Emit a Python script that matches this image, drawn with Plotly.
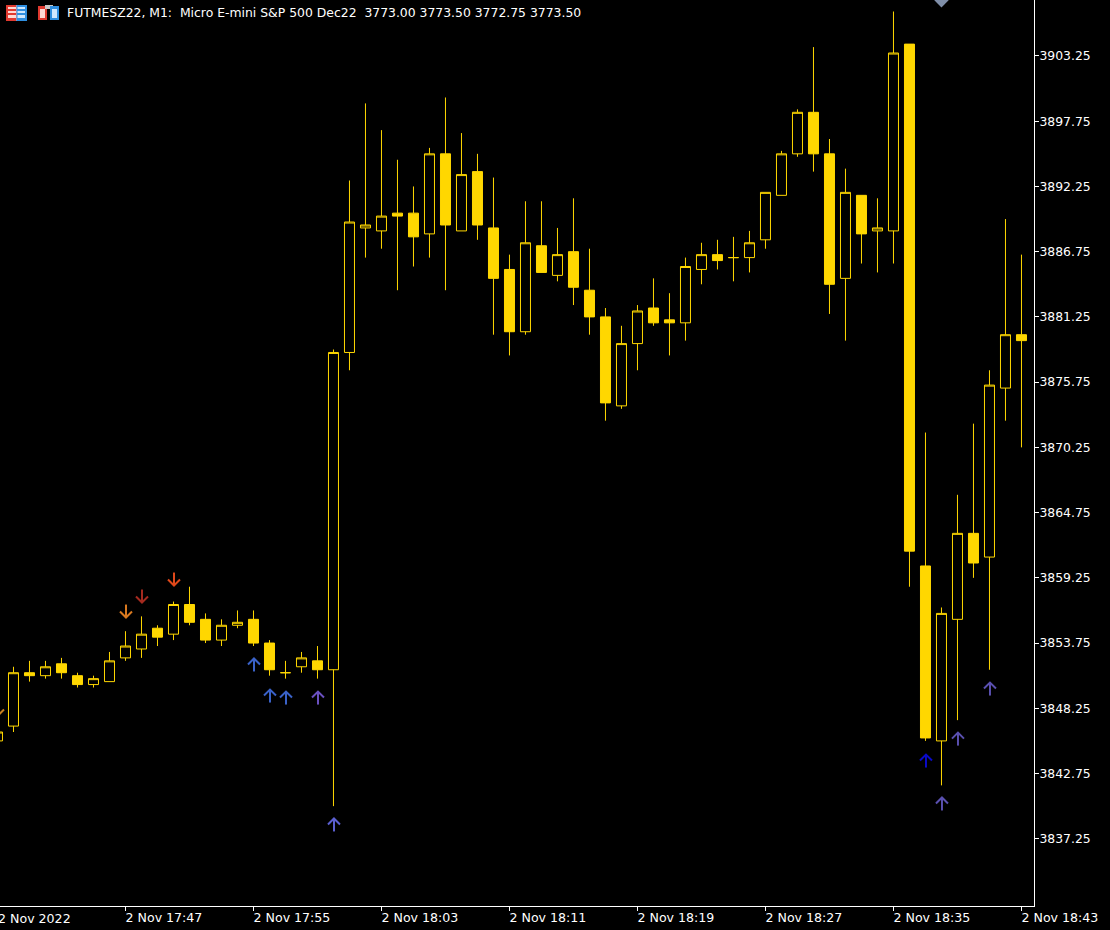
import pandas as pd
import plotly.graph_objects as go

# ---- data ----
times = pd.date_range("2022-11-02 17:39", "2022-11-02 18:43", freq="min")
opens = [3845.5,3846.75,3851.25,3851.0,3852.0,3851.0,3850.25,3850.5,3852.5,3853.25,3855.0,3854.5,3857.0,3855.75,3854.0,3855.25,3855.75,3853.75,3851.25,3851.75,3852.25,3851.5,
         3878.25,3888.75,3888.5,3890.0,3890.0,3888.25,3895.0,3888.5,3893.5,3888.75,3885.25,3880.0,3887.25,3884.75,3886.75,3883.5,3881.25,3873.75,3879.0,3882.0,3881.0,
         3880.75,3885.25,3886.5,3886.25,3886.25,3887.75,3891.5,3895.0,3898.5,3895.0,3884.5,3891.5,3888.5,3888.5,3904.25,3860.25,3845.5,3855.75,3863.0,3861.0,3875.25,3879.75]
highs = [3846.5,3851.75,3852.25,3852.25,3852.5,3851.25,3851.0,3853.0,3854.75,3856.0,3855.25,3857.25,3858.5,3856.25,3855.75,3856.5,3856.5,3854.0,3852.25,3853.0,3853.5,3878.5,
         3892.75,3899.25,3897.0,3894.5,3892.25,3895.5,3899.75,3896.75,3895.0,3893.0,3886.5,3891.0,3891.0,3888.75,3891.25,3887.0,3882.0,3880.5,3882.25,3884.5,3883.25,
         3886.25,3887.5,3887.75,3888.0,3888.5,3891.75,3895.25,3898.75,3904.0,3896.25,3893.75,3891.5,3891.25,3907.0,3904.25,3871.5,3856.75,3866.25,3872.25,3876.75,3889.5,3886.5]
lows = [3845.25,3846.25,3850.5,3850.75,3850.75,3850.0,3850.0,3850.5,3852.25,3852.5,3853.5,3854.0,3855.25,3853.75,3853.5,3855.0,3853.5,3851.0,3850.75,3851.25,3850.75,3840.0,
        3876.75,3886.25,3887.0,3883.5,3885.5,3886.25,3883.5,3888.5,3887.75,3879.75,3878.0,3879.75,3885.0,3884.25,3882.25,3879.75,3872.5,3873.5,3876.75,3880.5,3878.0,
        3879.25,3884.0,3885.25,3884.25,3885.0,3887.0,3891.5,3894.75,3893.5,3881.5,3879.25,3885.75,3885.0,3885.75,3858.5,3845.5,3841.75,3847.25,3859.25,3851.5,3872.5,3870.25]
closes = [3846.25,3851.25,3851.0,3851.75,3851.25,3850.25,3850.75,3852.25,3853.5,3854.5,3854.25,3857.0,3855.5,3854.0,3855.25,3855.5,3853.75,3851.5,3851.25,3852.5,3851.5,3878.25,
          3889.25,3889.0,3889.75,3889.75,3888.0,3895.0,3889.0,3893.25,3889.0,3884.5,3880.0,3887.5,3885.0,3886.5,3883.75,3881.25,3874.0,3879.0,3881.75,3880.75,3880.75,
          3885.5,3886.5,3886.0,3886.25,3887.5,3891.75,3895.0,3898.5,3895.0,3884.0,3891.75,3888.25,3888.75,3903.5,3861.5,3845.75,3856.25,3863.0,3860.5,3875.5,3879.75,3879.25]

y_ticks = [3903.25,3897.75,3892.25,3886.75,3881.25,3875.75,3870.25,3864.75,3859.25,3853.75,3848.25,3842.75,3837.25]
x_tick_times = ["2022-11-02 17:47","2022-11-02 17:55","2022-11-02 18:03","2022-11-02 18:11",
                "2022-11-02 18:19","2022-11-02 18:27","2022-11-02 18:35","2022-11-02 18:43"]
x_tick_text = ["2 Nov 17:47","2 Nov 17:55","2 Nov 18:03","2 Nov 18:11",
               "2 Nov 18:19","2 Nov 18:27","2 Nov 18:35","2 Nov 18:43"]

down_arrow_times = ["17:39","17:47","17:48","17:50"]
down_arrow_prices = [3847.64,3855.9,3857.17,3858.6]
down_arrow_colors = ["#c8801f","#d9791f","#a52a1f","#e0481a"]

up_arrow_times = ["17:55","17:56","17:57","17:59","18:00","18:37","18:38","18:39","18:41"]
up_arrow_prices = [3852.45,3849.83,3849.66,3849.66,3838.96,3844.35,3840.73,3846.2,3850.42]
up_arrow_colors = ["#3a62c8","#3a62c8","#3a62c8","#6a50c0","#5b5fd0","#0a0ac8","#5a50b0","#5a50b0","#5a50b0"]

diamond_time = ["2022-11-02 18:38"]
diamond_price = [3907.95]

title_text = "FUTMESZ22, M1:\u00a0\u00a0Micro E-mini S&P 500 Dec22\u00a0\u00a03773.00 3773.50 3772.75 3773.50"
first_label = "2 Nov 2022"

# ---- style ----
GOLD = "#FFD700"
FONT = "DejaVu Sans"
W, H = 1110, 930
PW, PH = 1034, 906
PRICE_PER_PX = 0.08432
MIN_PER_PX = 1 / 16

fig = go.Figure()
fig.add_trace(go.Candlestick(
    x=times, open=opens, high=highs, low=lows, close=closes,
    increasing=dict(line=dict(color=GOLD, width=1), fillcolor="#000000"),
    decreasing=dict(line=dict(color=GOLD, width=1), fillcolor=GOLD),
    whiskerwidth=0, hoverinfo="skip", showlegend=False,
))


def arrow(time_str, price, color, direction):
    """direction=+1 for an up arrow (tip on top), -1 for a down arrow."""
    t = pd.Timestamp("2022-11-02 " + time_str) + pd.Timedelta(minutes=0.5 * MIN_PER_PX)
    dt = pd.Timedelta(minutes=6 * MIN_PER_PX)
    head = price - direction * 6 * PRICE_PER_PX
    tail = price - direction * 13 * PRICE_PER_PX
    fig.add_trace(go.Scatter(
        x=[t - dt, t, t + dt, None, t, t],
        y=[head, price, head, None, price, tail],
        mode="lines", line=dict(color=color, width=2),
        hoverinfo="skip", showlegend=False,
    ))


for t_, p_, c_ in zip(down_arrow_times, down_arrow_prices, down_arrow_colors):
    arrow(t_, p_, c_, -1)
for t_, p_, c_ in zip(up_arrow_times, up_arrow_prices, up_arrow_colors):
    arrow(t_, p_, c_, 1)

fig.add_trace(go.Scatter(
    x=diamond_time, y=diamond_price, mode="markers",
    marker=dict(symbol="diamond", size=11, color="#7f8ea8"),
    hoverinfo="skip", showlegend=False,
))


def px(x0, y0, x1, y1, fill):
    return dict(type="rect", xref="paper", yref="paper", layer="above",
                x0=x0 / PW, x1=x1 / PW, y0=1 - y0 / PH, y1=1 - y1 / PH,
                fillcolor=fill, line=dict(width=0))


RED, BLUE, PALE_R, PALE_B = "#e0392f", "#2f8fe0", "#ffd9d4", "#cfe8ff"
shapes = [
    px(6, 5, 27, 21, "#ffffff"),
    px(6, 5, 16.5, 21, RED), px(16.5, 5, 27, 21, BLUE),
    px(8, 7, 16, 9, PALE_R), px(8, 11, 16, 13, PALE_R), px(8, 15, 16, 18, PALE_R),
    px(17.5, 7, 25, 9, PALE_B), px(17.5, 11, 25, 13, PALE_B), px(17.5, 15, 25, 18, PALE_B),
    px(38, 6, 47, 20, RED), px(40, 9, 45, 18, PALE_R),
    px(45, 5, 53, 9, "#c8c8c8"),
    px(50, 6, 59, 20, BLUE), px(52, 9, 57, 18, PALE_B),
]

fig.update_layout(
    width=W, height=H,
    margin=dict(l=0, r=W - PW, t=0, b=H - PH, pad=0),
    paper_bgcolor="#000000", plot_bgcolor="#000000",
    font=dict(family=FONT, size=12, color="#ffffff"),
    boxgap=0.375, boxgroupgap=0, showlegend=False, shapes=shapes,
    xaxis=dict(
        type="date", range=["2022-11-02 17:39:09.4", "2022-11-02 18:43:47"],
        rangeslider=dict(visible=False), showgrid=False, zeroline=False,
        showline=True, linecolor="#ffffff", linewidth=1,
        ticks="outside", ticklen=4, tickcolor="#ffffff", tickwidth=1,
        tickmode="array", tickvals=x_tick_times, ticktext=x_tick_text,
        ticklabelposition="outside right", ticklabelshift=-1,
        tickfont=dict(family=FONT, size=12.6, color="#ffffff"),
    ),
    yaxis=dict(
        side="right", range=[3831.58, 3907.97], showgrid=False, zeroline=False,
        showline=True, linecolor="#ffffff", linewidth=1,
        ticks="outside", ticklen=4, tickcolor="#ffffff", tickwidth=1,
        ticklabelstandoff=-2,
        tickmode="array", tickvals=y_ticks, ticktext=[f"{v:.2f}" for v in y_ticks],
        tickfont=dict(family=FONT, size=12.4, color="#ffffff"),
    ),
    annotations=[
        dict(text=title_text, xref="paper", yref="paper", x=65 / PW, y=1 - 13 / PH,
             xanchor="left", yanchor="middle", showarrow=False,
             font=dict(family=FONT, size=12.4, color="#ffffff")),
        dict(text=first_label, xref="paper", yref="paper", x=-4 / PW, y=-12 / PH,
             xanchor="left", yanchor="middle", showarrow=False,
             font=dict(family=FONT, size=12.6, color="#ffffff")),
    ],
)

fig.write_html("out.html", config=dict(displayModeBar=False),
               post_script="document.body.style.margin='0';document.body.style.overflow='hidden';")
